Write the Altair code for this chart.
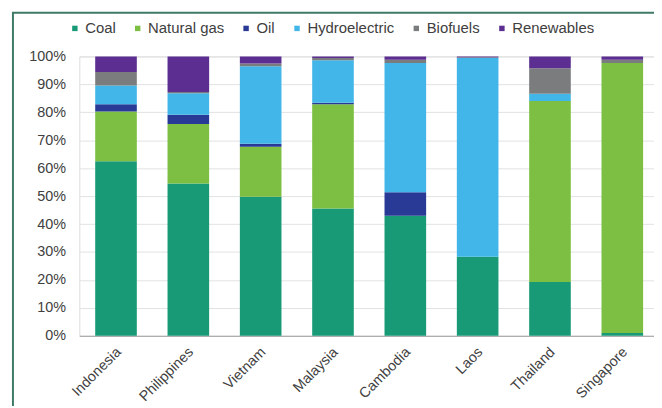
import altair as alt
import pandas as pd

countries = ["Indonesia", "Philippines", "Vietnam", "Malaysia", "Cambodia", "Laos", "Thailand", "Singapore"]
sources = ["Coal", "Natural gas", "Oil", "Hydroelectric", "Biofuels", "Renewables"]
colors = ["#179a75", "#7cbf42", "#283a96", "#42b6e8", "#7b7c7e", "#5c2e91"]

coal = [62.5, 54.5, 49.8, 45.6, 43.0, 28.3, 19.3, 1.0]
natural_gas = [17.8, 21.3, 17.9, 37.3, 0.0, 0.0, 64.7, 96.6]
oil = [2.6, 3.3, 1.0, 0.5, 8.4, 0.0, 0.0, 0.0]
hydroelectric = [6.7, 7.7, 27.8, 15.2, 46.2, 71.1, 2.6, 0.0]
biofuels = [4.8, 0.5, 1.0, 0.8, 1.2, 0.3, 9.2, 1.2]
renewables = [5.6, 12.7, 2.5, 0.6, 1.2, 0.3, 4.2, 1.2]

series = [coal, natural_gas, oil, hydroelectric, biofuels, renewables]
rows = []
for si, (name, vals) in enumerate(zip(sources, series)):
    for c, v in zip(countries, vals):
        rows.append({"country": c, "source": name, "value": v, "order": si})
df = pd.DataFrame(rows)

FONT = "Liberation Sans"
TXT = "#404040"

bars = alt.Chart(df).mark_bar().encode(
    x=alt.X("country:N", sort=countries, title=None,
            scale=alt.Scale(paddingInner=0.4247, paddingOuter=0.185, align=0.593),
            axis=alt.Axis(labelAngle=-45, labelAlign="right", labelBaseline="middle",
                          labelPadding=14, labelOffset=3, ticks=False, domain=True,
                          domainColor="#a0a0a0", domainWidth=1, grid=False,
                          labelFont=FONT, labelFontSize=14.5, labelColor=TXT)),
    y=alt.Y("value:Q", stack="zero", title=None,
            scale=alt.Scale(domain=[0, 100], nice=False),
            axis=alt.Axis(values=[0, 10, 20, 30, 40, 50, 60, 70, 80, 90, 100],
                          labelExpr="datum.value + '%'", domain=False, ticks=False,
                          labelPadding=14, grid=True, gridColor="#e2e2e2", gridWidth=1,
                          labelFont=FONT, labelFontSize=14.5, labelColor=TXT)),
    color=alt.Color("source:N", sort=sources,
                    scale=alt.Scale(domain=sources, range=colors),
                    legend=alt.Legend(title=None, orient="none", direction="horizontal",
                                      legendX=-12, legendY=-36, symbolType="square",
                                      symbolSize=30, symbolStrokeWidth=0,
                                      labelFont=FONT, labelFontSize=15, labelColor=TXT,
                                      labelOffset=3, columnPadding=14.4, padding=0)),
    order=alt.Order("order:Q", sort="ascending"),
)

frame_df = pd.DataFrame({"k": [0]})
left_line = alt.Chart(frame_df).mark_rule(color="#3f7a66", strokeWidth=2).encode(
    x=alt.value(-67), y=alt.value(-44), y2=alt.value(360)
)
top_line = alt.Chart(frame_df).mark_rule(color="#3f7a66", strokeWidth=2).encode(
    x=alt.value(-68), x2=alt.value(600), y=alt.value(-44)
)

chart = alt.layer(bars, left_line, top_line).properties(
    width=580, height=282,
    autosize=alt.AutoSizeParams(type="none"),
    padding={"left": 72, "top": 47, "right": 0, "bottom": 69},
).configure_view(stroke=None).configure(background="white")

chart.save("out.html", embed_options={"renderer": "svg", "actions": False})
